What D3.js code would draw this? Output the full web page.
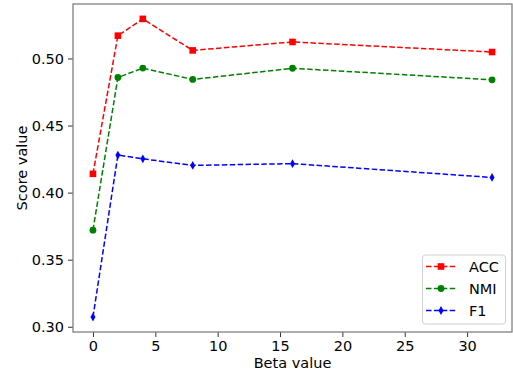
<!DOCTYPE html>
<html><head><meta charset="utf-8">
<script src="https://cdn.jsdelivr.net/npm/d3@7"></script>
<style>body{margin:0;background:#fff}svg{display:block}text{font-family:"DejaVu Sans",sans-serif;fill:#000}</style>
</head><body>
<script>
const betas = [0, 2, 4, 8, 16, 32];
const acc = [0.414, 0.517, 0.5295, 0.506, 0.5123, 0.5048];
const nmi = [0.372, 0.4858, 0.4928, 0.4844, 0.4927, 0.4841];
const f1  = [0.3072, 0.428, 0.4252, 0.4203, 0.4216, 0.4113];
const seriesNames = ["ACC", "NMI", "F1"];
const xTicks = [0, 5, 10, 15, 20, 25, 30];
const yTicks = [0.30, 0.35, 0.40, 0.45, 0.50];

const W = 513, H = 373;
const m = {l: 73, r: 1, t: 4, b: 41};
const svg = d3.select("body").append("svg").attr("width", W).attr("height", H);
const x = d3.scaleLinear().domain([-1.6, 33.6]).range([m.l, W - m.r]);
const y = d3.scaleLinear().domain([0.2961, 0.5406]).range([H - m.b, m.t]);
const fs = 14.5;

const series = [
  {name: seriesNames[0], vals: acc, color: "#ff0000", marker: "square"},
  {name: seriesNames[1], vals: nmi, color: "#008000", marker: "circle"},
  {name: seriesNames[2], vals: f1, color: "#0000ff", marker: "thin"}
];

function drawMarker(g, type, cx, cy, color) {
  if (type === "square") {
    g.append("rect").attr("x", cx - 3.3).attr("y", cy - 3.3).attr("width", 6.6).attr("height", 6.6).attr("fill", color);
  } else if (type === "circle") {
    g.append("circle").attr("cx", cx).attr("cy", cy).attr("r", 3.4).attr("fill", color);
  } else {
    g.append("path").attr("d", `M${cx},${cy-4.4}L${cx+2.5},${cy}L${cx},${cy+4.4}L${cx-2.5},${cy}Z`).attr("fill", color);
  }
}

// axes
const xAxis = svg.append("g").attr("transform", `translate(0,${H - m.b})`)
  .call(d3.axisBottom(x).tickValues(xTicks).tickSize(5).tickPadding(4).tickFormat(d3.format("d")));
const yAxis = svg.append("g").attr("transform", `translate(${m.l},0)`)
  .call(d3.axisLeft(y).tickValues(yTicks).tickSize(5).tickPadding(4).tickFormat(d3.format(".2f")));
[xAxis, yAxis].forEach(a => {
  a.select(".domain").remove();
  a.selectAll(".tick line").attr("stroke", "#333").attr("stroke-width", 1);
  a.selectAll(".tick text").style("font-size", fs + "px").style("font-family", "DejaVu Sans").attr("fill", "#000");
});

// lines
const line = d3.line().x((d, i) => x(betas[i])).y(d => y(d));
series.forEach(s => {
  svg.append("path").datum(s.vals).attr("d", line).attr("fill", "none")
    .attr("stroke", s.color).attr("stroke-width", 1.5).attr("stroke-dasharray", "5.5,2.4");
  const g = svg.append("g");
  s.vals.forEach((v, i) => drawMarker(g, s.marker, x(betas[i]), y(v), s.color));
});

// frame
svg.append("rect").attr("x", m.l).attr("y", m.t).attr("width", W - m.r - m.l).attr("height", H - m.b - m.t)
  .attr("fill", "none").attr("stroke", "#808080").attr("stroke-width", 1.3);

// axis labels
svg.append("text").attr("x", (m.l + W - m.r) / 2).attr("y", 368).attr("text-anchor", "middle")
  .style("font-size", fs + "px").text("Beta value");
svg.append("text").attr("transform", `translate(27,${(m.t + H - m.b) / 2}) rotate(-90)`).attr("text-anchor", "middle")
  .style("font-size", fs + "px").text("Score value");

// legend
const lg = svg.append("g");
lg.append("rect").attr("x", 422.5).attr("y", 255).attr("width", 83).attr("height", 69).attr("rx", 3)
  .attr("fill", "#fff").attr("fill-opacity", 0.8).attr("stroke", "#d0d0d0").attr("stroke-width", 1);
series.forEach((s, i) => {
  const cy = 266.5 + i * 22;
  lg.append("line").attr("x1", 426).attr("x2", 456).attr("y1", cy).attr("y2", cy)
    .attr("stroke", s.color).attr("stroke-width", 1.5).attr("stroke-dasharray", "5.5,2.4");
  drawMarker(lg, s.marker, 441, cy, s.color);
  lg.append("text").attr("x", 469).attr("y", cy + 5.2).style("font-size", fs + "px").text(s.name);
});
</script>
</body></html>
